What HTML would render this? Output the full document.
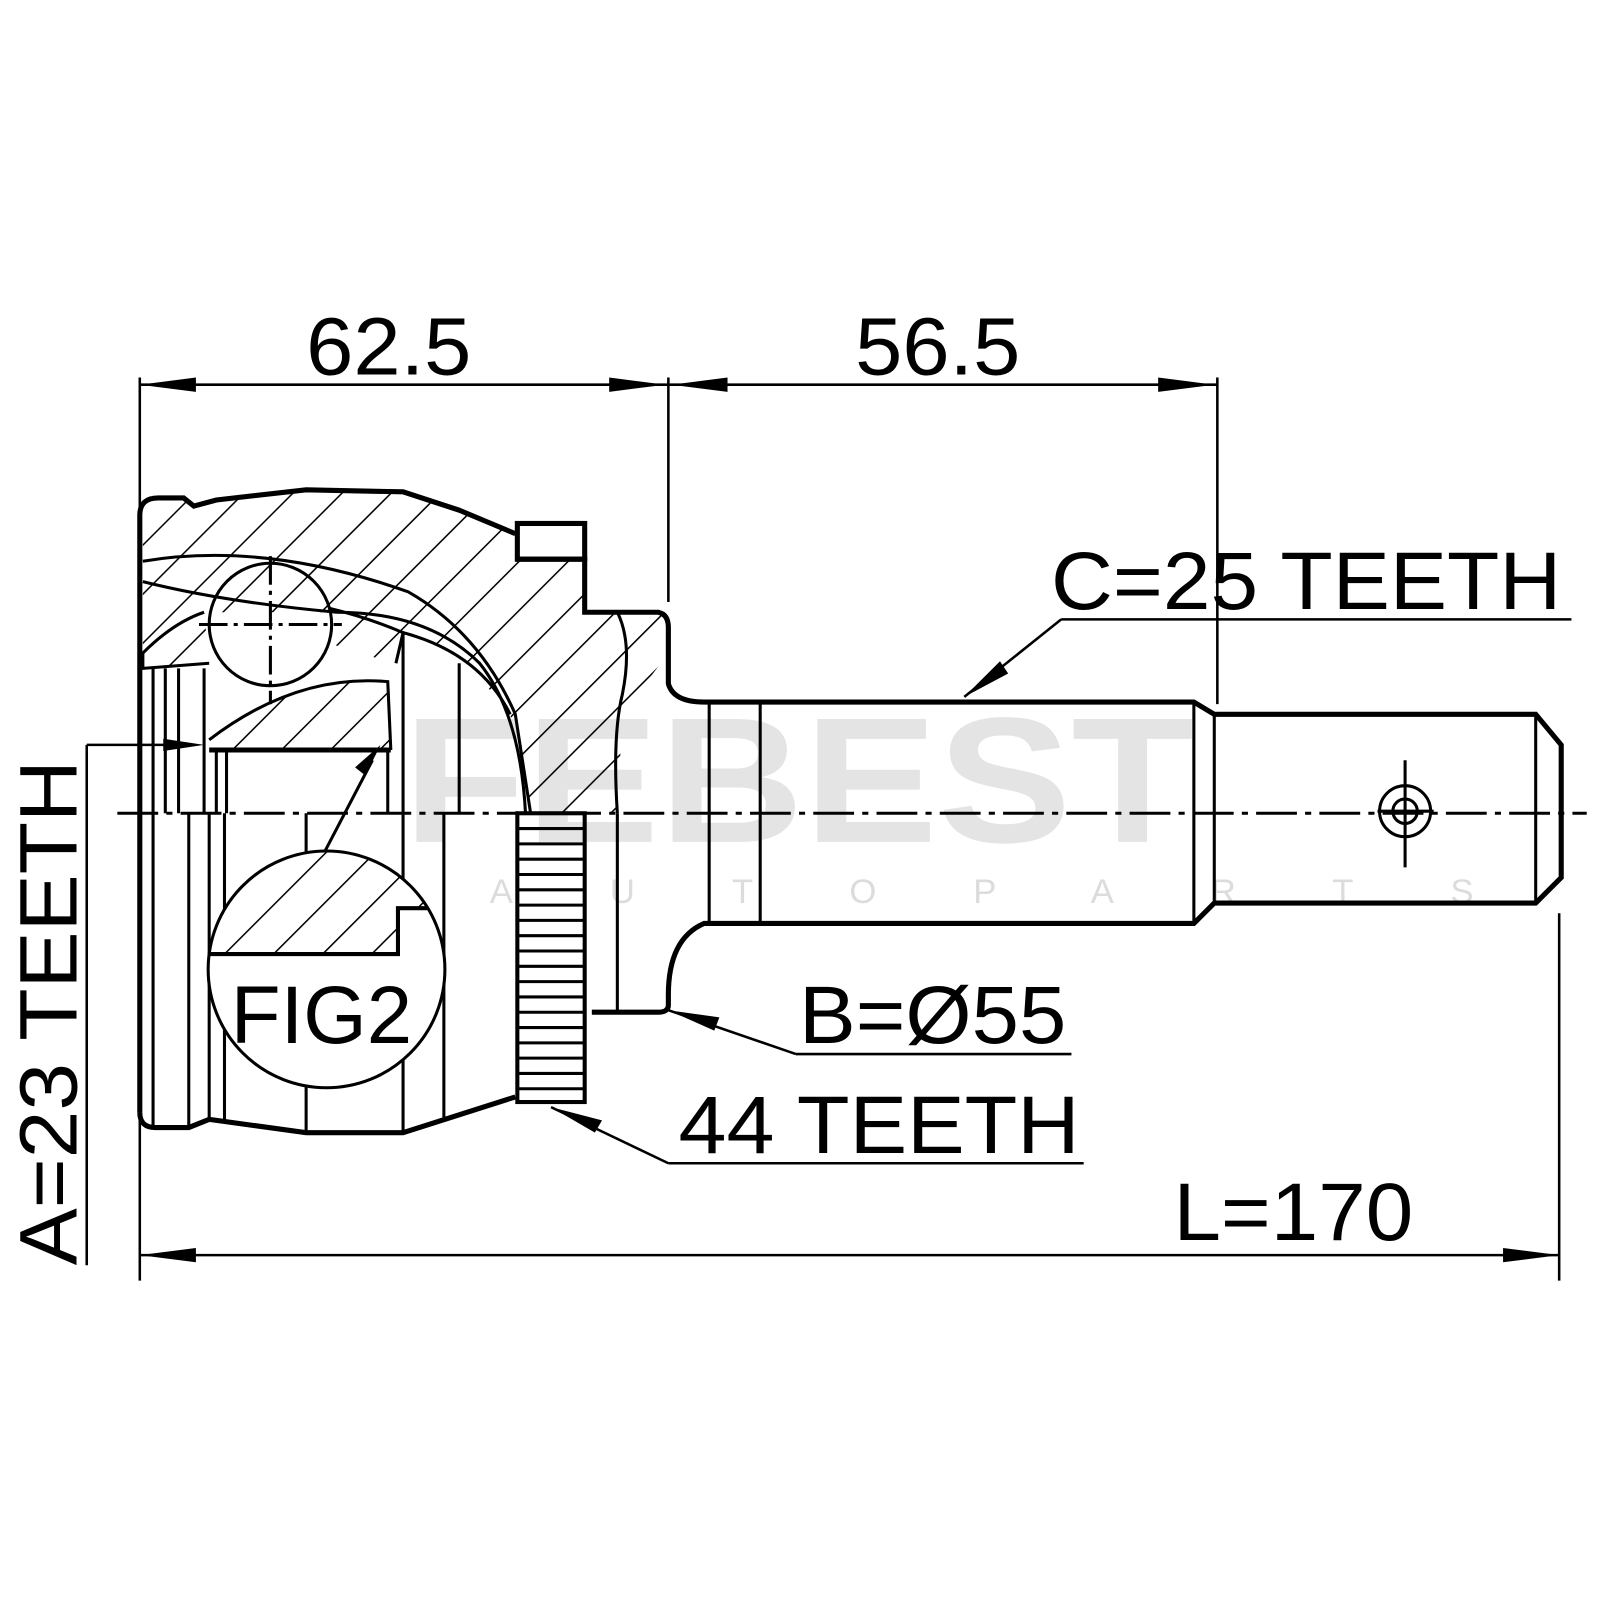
<!DOCTYPE html>
<html><head><meta charset="utf-8"><style>
html,body{margin:0;padding:0;background:#fff}
svg{display:block}
text{font-family:"Liberation Sans",Arial,sans-serif;fill:#000}
</style></head><body>
<svg width="1600" height="1600" viewBox="0 0 1600 1600" xmlns="http://www.w3.org/2000/svg">
<defs>
<pattern id="h" patternUnits="userSpaceOnUse" width="34" height="34" patternTransform="rotate(45)">
<line x1="0" y1="0" x2="0" y2="34" stroke="#000" stroke-width="3"/>
</pattern>
</defs>
<g transform="scale(1.0204)">
<!-- watermark -->
<text x="395" y="825" font-size="175" font-weight="bold" style="fill:#e4e4e4" textLength="775" lengthAdjust="spacingAndGlyphs">FEBEST</text>
<text x="480" y="885" font-size="34" style="fill:#dcdcdc" letter-spacing="95">AUTOPARTS</text>

<!-- hatched body top -->
<path d="M140,500 Q140,488 155,488 L180,488 L190,496 L212,490 L300,480 L395,482 L450,500 L505,523 L505,548 L573,548 L573,600 L645,600 Q655,602 655,615 L655,640 L610,700 L605,797 L520,797 L500,700 L450,640 L395,620 L330,600 L200,600 L140,640 Z" fill="url(#h)"/>
<path d="M205,725 Q290,660 380,668 L383,735 L205,735 Z" fill="url(#h)"/>
<path d="M322,596 Q360,605 395,620 L388,650 Q350,640 322,630 Z" fill="url(#h)"/>
<path d="M140,635 L200,600 L205,650 L140,655 Z" fill="url(#h)"/>

<g fill="none" stroke="#000" stroke-width="3">
<path d="M137,1090 L137,505 Q137,488 155,488 L180,488 L190,496 L212,490 L300,480 L395,482 L450,500 L505,523" stroke-width="5"/>
<path d="M137,1090 Q137,1105 152,1105 L185,1105 L205,1097 L300,1110 L395,1110 L505,1075" stroke-width="5"/>
<path d="M505,548 L573,548 L573,600 L645,600 Q655,602 655,615 L655,670 Q660,688 690,688 L1170,688 L1190,700 L1505,700 L1530,730 L1530,860 L1505,885 L1190,885 L1170,905 L690,905 Q655,920 655,975 L655,985 Q655,992 645,992 L580,992" stroke-width="5"/>
<rect x="507" y="513" width="66" height="35" stroke-width="5"/>
<path d="M140,550 Q260,530 400,580 Q470,620 505,700 L520,797"/>
<path d="M140,570 Q220,590 330,600 Q420,600 470,650 Q510,700 515,797"/>
<path d="M200,600 Q170,610 140,640 L140,655 L205,650"/>
<path d="M205,725 Q290,660 380,668 L383,735"/>
<path d="M322,596 Q360,605 395,620 L388,650"/>
<path d="M395,620 Q470,640 500,700"/>
<path d="M605,600 Q620,630 610,680 Q600,720 605,797"/>
<path d="M150,655 L150,797 M162,655 L162,797 M175,655 L175,797 M200,655 L200,797 M212,735 L212,797 M222,735 L222,797 M380,735 L380,797 M395,620 L395,797 M450,650 L450,797"/>
<path d="M150,797 L150,1105 M185,797 L185,1105 M205,797 L205,1097 M220,797 L220,1100 M300,797 L300,840 M300,1060 L300,1110 M395,797 L395,1110 M435,797 L435,1095 M605,797 L605,992"/>
<path d="M205,735 L383,735" stroke-width="5"/>
<circle cx="265" cy="612" r="60"/>
<path d="M265,545 L265,690 M195,612 L335,612" stroke-dasharray="28,6,4,6"/>
<rect x="507" y="797" width="66" height="283" stroke-width="4"/>
</g>
<g stroke="#000" stroke-width="3">
<path d="M507,812H573M507,827H573M507,842H573M507,857H573M507,872H573M507,887H573M507,902H573M507,917H573M507,932H573M507,947H573M507,962H573M507,977H573M507,992H573M507,1007H573M507,1022H573M507,1037H573M507,1052H573M507,1067H573"/>
</g>

<!-- FIG2 -->
<circle cx="320" cy="950" r="116" fill="#fff" stroke="#000" stroke-width="3"/>
<clipPath id="c2"><circle cx="320" cy="950" r="116"/></clipPath>
<g clip-path="url(#c2)">
<path d="M200,830 L440,830 L440,890 L390,890 L390,935 L200,935 Z" fill="url(#h)"/>
<path d="M200,935 L390,935 L390,890 L440,890" fill="none" stroke="#000" stroke-width="4"/>
</g>
<text x="315" y="1022" font-size="80" text-anchor="middle">FIG2</text>
<path d="M318,835 L365,745" stroke="#000" stroke-width="3"/>
<path d="M373,730 L358,760 L348,752 Z" fill="#000"/>

<g fill="none" stroke="#000" stroke-width="3">
<path d="M695,688 L695,905 M745,688 L745,905 M1170,688 L1170,905 M1190,700 L1190,885 M1505,700 L1505,885"/>
<circle cx="1377" cy="795" r="25"/><circle cx="1377" cy="795" r="12"/>
<path d="M1377,745 L1377,850 M1350,795 L1405,795"/>
</g>
<path d="M115,797 L1555,797" stroke="#000" stroke-width="3" stroke-dasharray="40,8,6,8"/>

<g stroke="#000" stroke-width="2.5" fill="none">
<path d="M137,370 L137,1255 M655,370 L655,590 M1193,370 L1193,690 M1528,895 L1528,1255"/>
<path d="M137,377 L1193,377 M137,1230 L1528,1230"/>
<path d="M85,730 L85,1240 M85,730 L190,730"/>
<path d="M1040,607 L1540,607 M1040,607 L945,683"/>
<path d="M780,1033 L1050,1033 M780,1033 L655,990"/>
<path d="M655,1140 L1062,1140 M655,1140 L540,1085"/>
</g>
<g fill="#000">
<path d="M137,377 L192,370 L192,384 Z"/>
<path d="M652,377 L597,370 L597,384 Z"/>
<path d="M658,377 L713,370 L713,384 Z"/>
<path d="M1190,377 L1135,370 L1135,384 Z"/>
<path d="M137,1230 L192,1223 L192,1237 Z"/>
<path d="M1528,1230 L1473,1223 L1473,1237 Z"/>
<path d="M200,730 L160,724 L160,736 Z"/>
<path d="M945,683 L980,648 L988,660 Z"/>
<path d="M655,990 L705,997 L700,1010 Z"/>
<path d="M540,1085 L590,1098 L583,1110 Z"/>
</g>

<text x="300" y="367" font-size="80" textLength="162" lengthAdjust="spacingAndGlyphs">62.5</text>
<text x="838" y="367" font-size="80" textLength="162" lengthAdjust="spacingAndGlyphs">56.5</text>
<text x="1030" y="597" font-size="80" textLength="500" lengthAdjust="spacingAndGlyphs">C=25 TEETH</text>
<text x="783" y="1022" font-size="80" textLength="262" lengthAdjust="spacingAndGlyphs">B=Ø55</text>
<text x="665" y="1130" font-size="80" textLength="393" lengthAdjust="spacingAndGlyphs">44 TEETH</text>
<text x="1150" y="1215" font-size="80" textLength="235" lengthAdjust="spacingAndGlyphs">L=170</text>
<text transform="translate(75,1240) rotate(-90)" font-size="80" textLength="495" lengthAdjust="spacingAndGlyphs">A=23 TEETH</text>
</g>
</svg>
</body></html>
